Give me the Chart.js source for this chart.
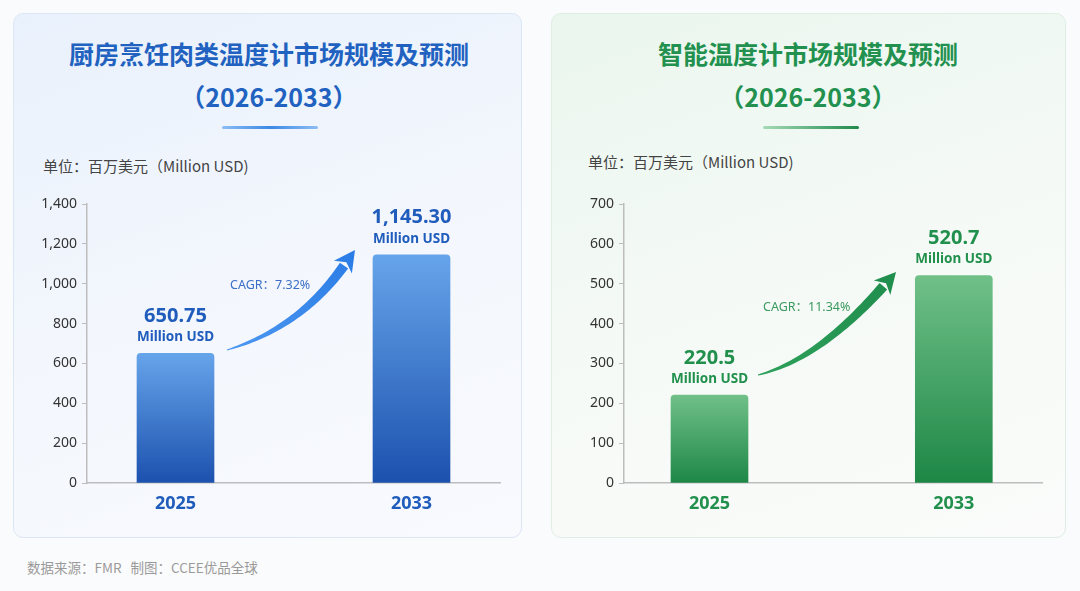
<!DOCTYPE html>
<html>
<head>
<meta charset="utf-8">
<script src="https://cdn.jsdelivr.net/npm/chart.js@4/dist/chart.umd.min.js"></script>
<style>
  html, body { margin: 0; padding: 0; }
  body {
    width: 1080px; height: 591px; position: relative; overflow: hidden;
    background: #fafbfc;
    font-family: "Noto Sans", "Noto Sans CJK SC", sans-serif;
  }
  .card { position: absolute; top: 13px; height: 525px; border-radius: 10px; box-sizing: border-box; }
  #cardL { left: 13px; width: 509px; border: 1px solid #dce7f6;
    background: linear-gradient(160deg, #e9f1fc 0%, #f4f7fd 55%, #f8fafe 100%); }
  #cardR { left: 551px; width: 515px; border: 1px solid #dfeee3;
    background: linear-gradient(160deg, #eaf6ee 0%, #f6faf7 55%, #fafbfa 100%); }
  .title { position: absolute; width: 440px; text-align: center; font-family: "Noto Sans CJK SC", sans-serif;
    font-weight: bold; font-size: 25px; line-height: 43px; top: 32px; }
  #titleL { left: 49px; color: #2162c0; }
  #titleR { left: 588px; color: #22914f; }
  .rule { position: absolute; top: 126px; height: 3px; width: 96px; border-radius: 2px; }
  #ruleL { left: 222px; background: linear-gradient(90deg, #8dbdf3, #3b89e6 50%, #8dbdf3); }
  #ruleR { left: 763px; background: linear-gradient(90deg, #a6dab6, #1f8a4c); }
  .unit { position: absolute; font-size: 15px; color: #444; font-family: "Noto Sans CJK SC", sans-serif; line-height: 20px; }
  #unitL { left: 43px; top: 156px; }
  #unitR { left: 588px; top: 152px; }
  .box { position: absolute; top: 190px; width: 495px; height: 330px; }
  #boxL { left: 20px; }
  #boxR { left: 560px; }
  #foot { position: absolute; left: 27px; top: 558px; font-size: 13.5px; color: #9a9a9a;
    font-family: "Noto Sans CJK SC", sans-serif; line-height: 18px; white-space: pre; }
</style>
</head>
<body>
<div class="card" id="cardL"></div>
<div class="card" id="cardR"></div>
<div class="title" id="titleL">厨房烹饪肉类温度计市场规模及预测<br>（2026-2033）</div>
<div class="title" id="titleR">智能温度计市场规模及预测<br>（2026-2033）</div>
<div class="rule" id="ruleL"></div>
<div class="rule" id="ruleR"></div>
<div class="unit" id="unitL">单位：百万美元（Million USD)</div>
<div class="unit" id="unitR">单位：百万美元（Million USD)</div>
<div class="box" id="boxL"><canvas id="chartL"></canvas></div>
<div class="box" id="boxR"><canvas id="chartR"></canvas></div>
<div id="foot">数据来源：FMR   制图：CCEE优品全球</div>

<script>
// données
const years = ['2025', '2033'];
const kitchenValues = [650.75, 1145.30];
const smartValues = [220.5, 520.7];
const kitchenTicks = [0, 200, 400, 600, 800, 1000, 1200, 1400];
const smartTicks = [0, 100, 200, 300, 400, 500, 600, 700];
const kitchenCagr = 'CAGR：7.32%';
const smartCagr = 'CAGR：11.34%';
const unitLabel = 'Million USD';

const FONT = '"Noto Sans", "Noto Sans CJK SC", sans-serif';

// value labels above each bar
const valueLabels = {
  id: 'valueLabels',
  afterDatasetsDraw(chart, args, opts) {
    const ctx = chart.ctx;
    const meta = chart.getDatasetMeta(0);
    ctx.save();
    ctx.textAlign = 'center';
    ctx.textBaseline = 'middle';
    ctx.fillStyle = opts.color;
    meta.data.forEach((bar, i) => {
      const v = chart.data.datasets[0].data[i].y;
      const txt = v.toLocaleString('en-US', { minimumFractionDigits: opts.decimals, maximumFractionDigits: opts.decimals });
      ctx.font = 'bold 20px ' + FONT;
      ctx.fillText(txt, bar.x, bar.y - 37);
      ctx.font = 'bold 13.5px ' + FONT;
      ctx.fillText(unitLabel, bar.x, bar.y - 16);
    });
    ctx.restore();
  }
};

// curved growth arrow + CAGR text
const cagrArrow = {
  id: 'cagrArrow',
  afterDatasetsDraw(chart, args, o) {
    const ctx = chart.ctx;
    const [tx, ty] = o.tail, [cx, cy] = o.ctrl, [px, py] = o.tip;
    let dx = px - cx, dy = py - cy;
    const len = Math.hypot(dx, dy);
    dx /= len; dy /= len;
    const headLen = 19, headHalf = 11;
    const bx = px - dx * headLen, by = py - dy * headLen;
    const left = [], right = [];
    const n = 40;
    for (let i = 0; i <= n; i++) {
      const t = i / n;
      const x = (1 - t) * (1 - t) * tx + 2 * (1 - t) * t * cx + t * t * bx;
      const y = (1 - t) * (1 - t) * ty + 2 * (1 - t) * t * cy + t * t * by;
      let gx = 2 * (1 - t) * (cx - tx) + 2 * t * (bx - cx);
      let gy = 2 * (1 - t) * (cy - ty) + 2 * t * (by - cy);
      const gl = Math.hypot(gx, gy);
      const nx = -gy / gl, ny = gx / gl;
      const w = 0.4 + 4.6 * Math.pow(t, 0.75);
      left.push([x + nx * w, y + ny * w]);
      right.push([x - nx * w, y - ny * w]);
    }
    const grad = ctx.createLinearGradient(tx, ty, px, py);
    grad.addColorStop(0, o.colors[0]);
    grad.addColorStop(1, o.colors[1]);
    ctx.save();
    ctx.fillStyle = grad;
    ctx.beginPath();
    ctx.moveTo(left[0][0], left[0][1]);
    left.forEach(p => ctx.lineTo(p[0], p[1]));
    for (let i = right.length - 1; i >= 0; i--) ctx.lineTo(right[i][0], right[i][1]);
    ctx.closePath();
    ctx.fill();
    // head
    const nx = -dy, ny = dx;
    ctx.beginPath();
    ctx.moveTo(px, py);
    ctx.lineTo(bx + nx * headHalf - dx * 2, by + ny * headHalf - dy * 2);
    ctx.lineTo(bx + dx * 4, by + dy * 4);
    ctx.lineTo(bx - nx * headHalf - dx * 2, by - ny * headHalf - dy * 2);
    ctx.closePath();
    ctx.fill();
    ctx.font = '12.5px ' + FONT;
    ctx.fillStyle = o.textColor;
    ctx.textAlign = 'left';
    ctx.textBaseline = 'middle';
    ctx.fillText(o.text, o.textPos[0], o.textPos[1]);
    ctx.restore();
  }
};

function barGradient(top, bottom) {
  return (c) => {
    const chart = c.chart;
    if (!chart.chartArea || c.parsed === undefined) return bottom;
    const yTop = chart.scales.y.getPixelForValue(c.parsed.y);
    const g = chart.ctx.createLinearGradient(0, yTop, 0, chart.chartArea.bottom);
    g.addColorStop(0, top);
    g.addColorStop(1, bottom);
    return g;
  };
}

function makeChart(id, values, ticks, cfg) {
  return new Chart(document.getElementById(id), {
    type: 'bar',
    data: {
      datasets: [{
        data: values.map((v, i) => ({ x: i, y: v })),
        backgroundColor: barGradient(cfg.barTop, cfg.barBottom),
        barThickness: 77,
        borderRadius: { topLeft: 4, topRight: 4 },
        borderSkipped: 'bottom'
      }]
    },
    options: {
      responsive: true,
      maintainAspectRatio: false,
      animation: false,
      layout: { padding: { top: 14, right: cfg.padRight, bottom: 0, left: 0 } },
      plugins: {
        legend: { display: false },
        tooltip: { enabled: false },
        valueLabels: { color: cfg.labelColor, decimals: cfg.decimals },
        cagrArrow: cfg.arrow
      },
      scales: {
        x: {
          type: 'linear',
          offset: false,
          min: cfg.xMin,
          max: cfg.xMax,
          afterBuildTicks: (s) => { s.ticks = years.map((_, i) => ({ value: i })); },
          afterFit: (s) => { s.height = 37; },
          ticks: {
            callback: (v) => years[v],
            color: cfg.labelColor,
            font: { family: FONT, size: 18, weight: 'bold' },
            padding: 2
          },
          grid: { display: false, offset: false },
          border: { display: true, color: '#bdbdbd', width: 1.5 }
        },
        y: {
          min: 0,
          max: ticks[ticks.length - 1],
          afterBuildTicks: (s) => { s.ticks = ticks.map(v => ({ value: v })); },
          afterFit: (s) => { s.width = cfg.yWidth; },
          ticks: {
            callback: (v) => v.toLocaleString('en-US'),
            color: '#333',
            font: { family: FONT, size: 14 },
            padding: 5
          },
          grid: { drawOnChartArea: false, drawTicks: true, tickLength: 5, color: '#bdbdbd' },
          border: { display: true, color: '#bdbdbd', width: 1.5 }
        }
      }
    },
    plugins: [valueLabels, cagrArrow]
  });
}

makeChart('chartL', kitchenValues, kitchenTicks, {
  barTop: '#66a4ea', barBottom: '#1c51ae', labelColor: '#1f5cbc', decimals: 2,
  xMin: -0.375, xMax: 1.375, yWidth: 67, padRight: 15,
  arrow: { tail: [207, 160], ctrl: [280, 138], tip: [335, 60], colors: ['#4d98f0', '#2a7ce6'],
           text: kitchenCagr, textPos: [210, 95], textColor: '#3b6fc6' }
});

makeChart('chartR', smartValues, smartTicks, {
  barTop: '#70c088', barBottom: '#1d8746', labelColor: '#22904d', decimals: 1,
  xMin: -0.35, xMax: 1.361, yWidth: 64, padRight: 13,
  arrow: { tail: [198, 185], ctrl: [258, 170], tip: [336, 82], colors: ['#2fa05c', '#1f8d4c'],
           text: smartCagr, textPos: [203, 117], textColor: '#3a9a5f' }
});
</script>
</body>
</html>
